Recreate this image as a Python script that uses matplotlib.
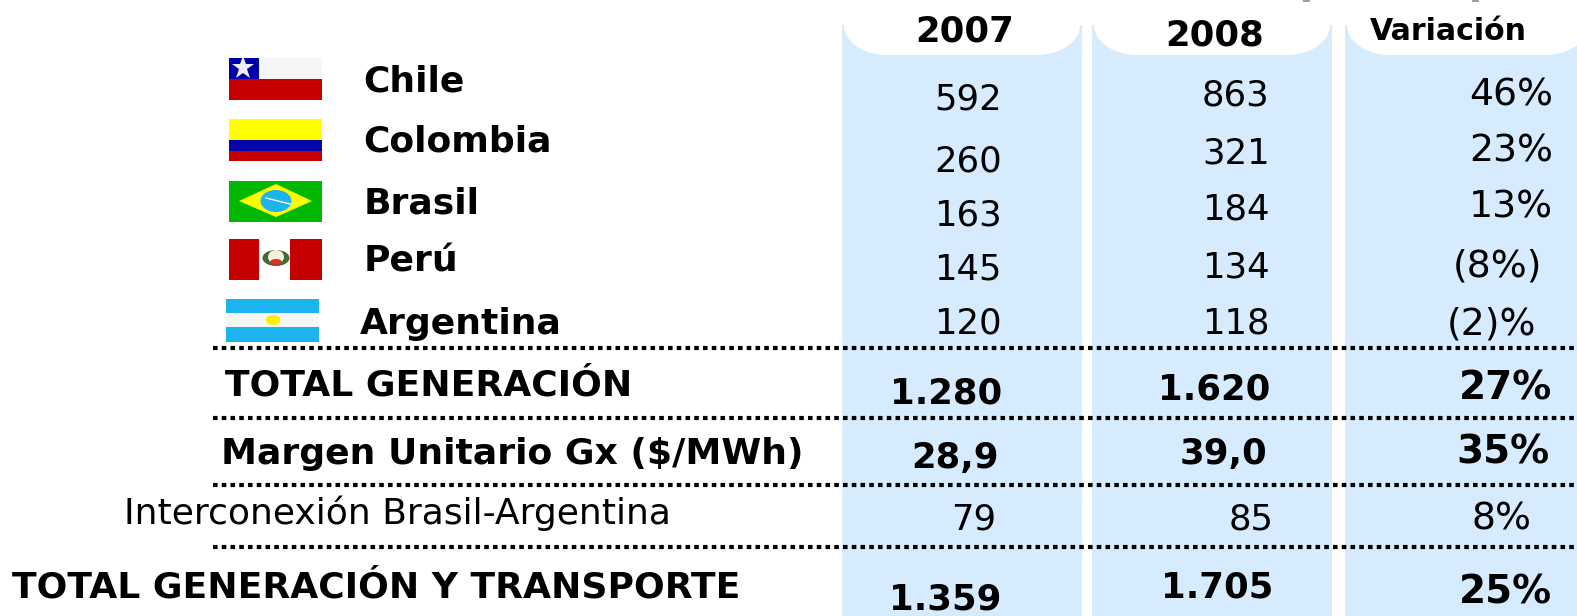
import matplotlib
matplotlib.use("Agg")
import matplotlib.pyplot as plt
from matplotlib.patches import Rectangle, Polygon, Ellipse

# ==========================================================
# DONNEES
# ==========================================================

paises = ["Chile", "Colombia", "Brasil", "Perú", "Argentina"]
totales = ["TOTAL GENERACIÓN", "Margen Unitario Gx ($/MWh)"]
interconexion = "Interconexión Brasil-Argentina"
total_final = "TOTAL GENERACIÓN Y TRANSPORTE"

cabeceras = ["2007", "2008", "Variación"]
valores_2007 = ["592", "260", "163", "145", "120", "1.280", "28,9", "79", "1.359"]
valores_2008 = ["863", "321", "184", "134", "118", "1.620", "39,0", "85", "1.705"]
variacion = ["46%", "23%", "13%", "(8%)", "(2)%", "27%", "35%", "8%", "25%"]

# ==========================================================
# POSITIONS (pixels de l'image)
# ==========================================================

X_2007 = [968, 968, 968, 968, 968, 946, 955, 974, 945]
Y_2007 = [100, 161, 216, 270, 324, 394, 458, 519, 600]
X_2008 = [1236, 1236, 1236, 1236, 1236, 1214, 1224, 1251, 1217]
Y_2008 = [95, 153, 210, 267, 324, 389, 454, 519, 588]
X_VAR = [1511, 1511, 1511, 1497, 1492, 1505, 1503, 1501, 1505]
Y_VAR = [95, 151, 207, 267, 324, 389, 453, 519, 592]

X_CAB = [965, 1215, 1448]
Y_CAB = [32, 36, 31]
TAILLE_CAB = [25.6, 25.6, 21.6]

X_PAIS = [363, 363, 364, 364, 360]
Y_PAIS = [81, 142, 203, 262, 324]

COLONNES = [(842, 1082), (1092, 1332), (1345, 1590)]
LIGNES_Y = [348, 418, 485, 547]

BLEU = "#d6ecfe"
TAILLE = 26
TAILLE_NUM = 25.6


def rect(ax, x, y, w, h, couleur):
    ax.add_patch(Rectangle((x, y), w, h, color=couleur, lw=0))


def drapeau_chile(ax):
    rect(ax, 229, 58, 93, 21, "#f6f6f6")
    rect(ax, 229, 79, 93, 21, "#c60000")
    rect(ax, 229, 58, 30, 21, "#0000a8")
    ax.plot([243], [68], marker="*", ms=17, color="#eeeeff", mew=0)


def drapeau_colombia(ax):
    rect(ax, 229, 119, 93, 21, "#ffff00")
    rect(ax, 229, 140, 93, 11, "#0404a8")
    rect(ax, 229, 151, 93, 10, "#c60000")


def drapeau_brasil(ax):
    rect(ax, 229, 181, 93, 41, "#00b800")
    ax.add_patch(Polygon([(239, 201), (276, 184), (312, 201), (276, 217)],
                         color="#ffff00", lw=0))
    ax.add_patch(Ellipse((276, 201), 31, 22, color="#1bb4ee", lw=0))
    ax.plot([266, 290], [198, 204], color="white", lw=1)


def drapeau_peru(ax):
    rect(ax, 229, 239, 93, 41, "#c60000")
    rect(ax, 259, 239, 31, 41, "white")
    ax.add_patch(Ellipse((276, 258), 27, 16, color="#3f6b35", lw=0))
    ax.add_patch(Ellipse((276, 257), 16, 14, color="#f4f0e0", lw=0))
    ax.add_patch(Ellipse((276, 262), 12, 6, color="#d8332a", lw=0))


def drapeau_argentina(ax):
    rect(ax, 226, 299, 93, 14, "#1bb4ee")
    rect(ax, 226, 313, 93, 14, "#f6f6f6")
    rect(ax, 226, 327, 93, 15, "#1bb4ee")
    ax.add_patch(Ellipse((273, 320), 15, 10, color="#ffee00", lw=0))


def main():
    fig = plt.figure(figsize=(15.77, 6.16), dpi=100)
    ax = fig.add_axes([0, 0, 1, 1])
    ax.set_xlim(0, 1577)
    ax.set_ylim(616, 0)
    ax.axis("off")

    # Colonnes bleues avec encoche blanche arrondie
    for x0, x1 in COLONNES:
        ax.add_patch(Rectangle((x0, 25), x1 - x0, 591, color=BLEU, lw=0, zorder=1))
        ax.add_patch(Rectangle((x0 + 44, 0), x1 - x0 - 88, 55, color="white", lw=0, zorder=2))
        ax.add_patch(Ellipse((x0 + 45, 25), 86, 60, color="white", lw=0, zorder=2))
        ax.add_patch(Ellipse((x1 - 45, 25), 86, 60, color="white", lw=0, zorder=2))

    # Petites traces grises en haut de l'image
    for x in [1303, 1472]:
        ax.add_patch(Rectangle((x, 0), 7, 2, color="#a0a0a0", lw=0, zorder=2))

    drapeau_chile(ax)
    drapeau_colombia(ax)
    drapeau_brasil(ax)
    drapeau_peru(ax)
    drapeau_argentina(ax)

    # Lignes pointillees
    for y in LIGNES_Y:
        ax.plot([213, 1577], [y, y], color="black", lw=3,
                linestyle=(0, (1.1, 1)), dash_capstyle="butt", zorder=3)

    # En-tetes
    for x, y, t, taille in zip(X_CAB, Y_CAB, cabeceras, TAILLE_CAB):
        ax.text(x, y, t, ha="center", va="center", fontsize=taille,
                fontweight="bold", zorder=4)

    # Libelles
    for x, y, t in zip(X_PAIS, Y_PAIS, paises):
        ax.text(x, y, t, ha="left", va="center", fontsize=TAILLE,
                fontweight="bold", zorder=4)

    ax.text(225, 386, totales[0], ha="left", va="center", fontsize=TAILLE,
            fontweight="bold", zorder=4)
    ax.text(221, 454, totales[1], ha="left", va="center", fontsize=TAILLE,
            fontweight="bold", zorder=4)
    ax.text(124, 513, interconexion, ha="left", va="center", fontsize=TAILLE,
            zorder=4)
    ax.text(12, 588, total_final, ha="left", va="center", fontsize=TAILLE,
            fontweight="bold", zorder=4)

    # Valeurs
    for serie, xs, ys, extra in [(valores_2007, X_2007, Y_2007, 0),
                                 (valores_2008, X_2008, Y_2008, 0),
                                 (variacion, X_VAR, Y_VAR, 1.6)]:
        for i, (t, x, y) in enumerate(zip(serie, xs, ys)):
            gras = i in (5, 6, 8)
            ax.text(x, y, t, ha="center", va="center",
                    fontsize=TAILLE_NUM + extra + (0.8 if gras and extra else 0),
                    fontweight="bold" if gras else "normal", zorder=4)

    fig.savefig("out.png", dpi=100)


if __name__ == "__main__":
    main()
